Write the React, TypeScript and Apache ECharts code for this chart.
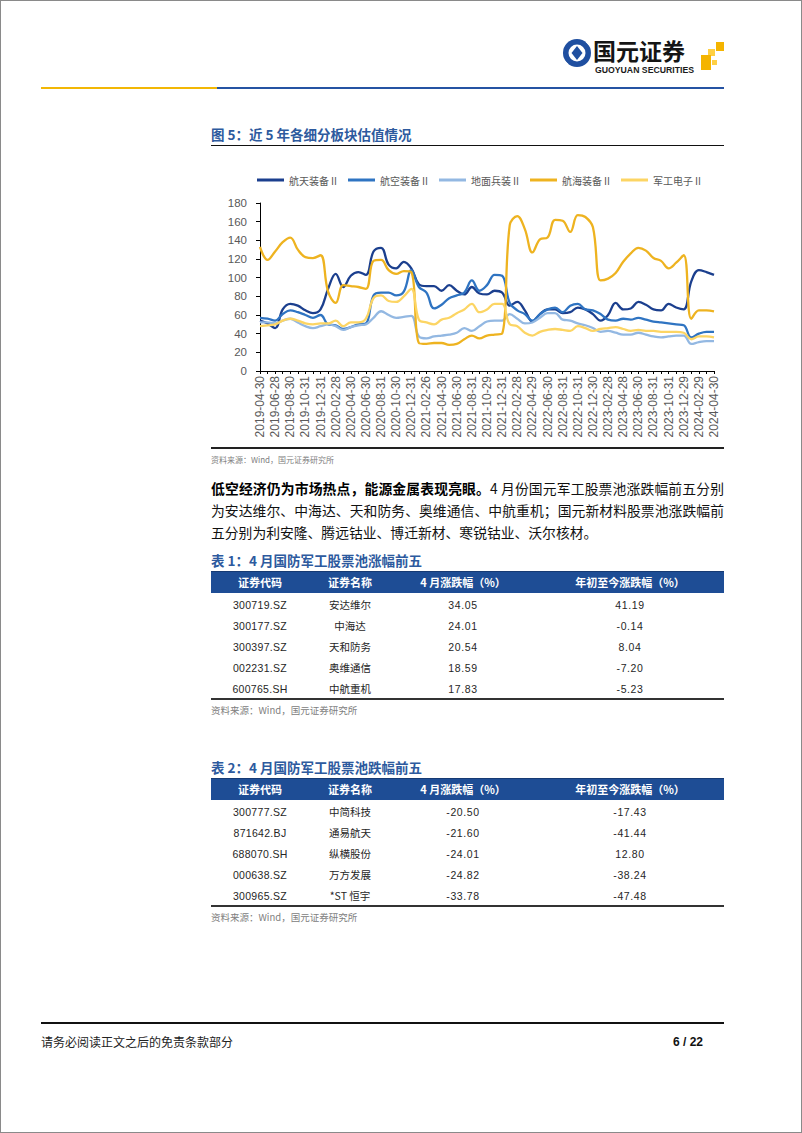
import React, { useEffect, useRef } from "react";
import * as echarts from "echarts";

// ---------- chart data ----------
const DATES = [
  "2019-04-30", "2019-05-31", "2019-06-28", "2019-07-31", "2019-08-30", "2019-09-30", "2019-10-31", "2019-11-29", "2019-12-31",
  "2020-01-23", "2020-02-28", "2020-03-31", "2020-04-30", "2020-05-29", "2020-06-30", "2020-07-31", "2020-08-31", "2020-09-30", "2020-10-30", "2020-11-30", "2020-12-31",
  "2021-01-29", "2021-02-26", "2021-03-31", "2021-04-30", "2021-05-31", "2021-06-30", "2021-07-30", "2021-08-31", "2021-09-30", "2021-10-29", "2021-11-30", "2021-12-31",
  "2022-01-28", "2022-02-28", "2022-03-31", "2022-04-29", "2022-05-31", "2022-06-30", "2022-07-29", "2022-08-31", "2022-09-30", "2022-10-31", "2022-11-30", "2022-12-30",
  "2023-01-31", "2023-02-28", "2023-03-31", "2023-04-28", "2023-05-31", "2023-06-30", "2023-07-31", "2023-08-31", "2023-09-28", "2023-10-31", "2023-11-30", "2023-12-29",
  "2024-01-31", "2024-02-29", "2024-03-29", "2024-04-30",
];

const SERIES_NAMES = ["航天装备Ⅱ", "航空装备Ⅱ", "地面兵装Ⅱ", "航海装备Ⅱ", "军工电子Ⅱ"];

const AEROSPACE = [
  54, 51, 46, 66, 72, 70, 65, 62, 66, 88,
  104, 90, 102, 106, 103, 128, 132, 114, 110, 117,
  110, 93, 91, 91, 86, 92, 86, 82, 90, 83,
  82, 86, 84, 70, 74, 65, 53, 61, 66, 66,
  62, 63, 68, 66, 61, 54, 60, 73, 66, 67,
  74, 71, 66, 65, 72, 68, 66, 96, 108, 106,
  103,
];
const AVIATION = [
  57, 56, 54, 61, 65, 63, 60, 57, 60, 50,
  49, 45, 47, 50, 51, 81, 84, 84, 81, 85,
  108, 90, 84, 67, 71, 78, 81, 84, 97, 86,
  92, 103, 102, 73, 65, 61, 54, 61, 66, 68,
  63, 70, 72, 66, 65, 61, 55, 54, 56, 55,
  57, 55, 53, 52, 51, 50, 49, 36, 40, 42,
  42,
];
const GROUND = [
  52, 52, 51, 54, 56, 52, 48, 46, 48, 50,
  48, 44, 47, 49, 50, 57, 64, 60, 57, 58,
  59, 37, 35, 37, 38, 39, 41, 46, 43, 48,
  53, 54, 54, 61, 56, 51, 52, 57, 62, 62,
  55, 54, 51, 49, 46, 42, 43, 41, 39, 39,
  41, 39, 37, 36, 37, 38, 38, 29, 31, 32,
  32,
];
const MARINE = [
  133, 119, 128, 138, 143, 130, 122, 121, 124, 85,
  73, 92, 91, 90, 88, 118, 119, 108, 104, 107,
  106, 30, 29, 30, 30, 28, 29, 34, 38, 35,
  38, 39, 40, 156, 166, 152, 127, 141, 143, 162,
  161, 149, 167, 165, 154, 97, 99, 105, 117, 126,
  132, 129, 121, 118, 110, 116, 124, 56, 65, 65,
  64,
];
const ELECTRONICS = [
  48, 49, 50, 54, 56, 54, 51, 50, 51, 51,
  54, 48, 52, 52, 56, 78, 81, 75, 74, 80,
  88, 55, 52, 50, 55, 57, 62, 66, 72, 63,
  66, 72, 72, 50, 48, 41, 38, 42, 44, 45,
  44, 43, 48, 46, 43, 45, 46, 47, 45, 43,
  44, 43, 43, 42, 42, 42, 41, 34, 37, 37,
  36,
];
const SERIES_DATA = [AEROSPACE, AVIATION, GROUND, MARINE, ELECTRONICS];
const SERIES_COLORS = ["#1B3F8E", "#2F74C2", "#93B8E2", "#EEB320", "#FCD564"];

const Y_MIN = 0;
const Y_MAX = 180;
const Y_STEP = 20;

// ---------- table data ----------
const TABLE_HEAD = ["证券代码", "证券名称", "4 月涨跌幅（%）", "年初至今涨跌幅（%）"];

const T1_CODES = ["300719.SZ", "300177.SZ", "300397.SZ", "002231.SZ", "600765.SH"];
const T1_NAMES = ["安达维尔", "中海达", "天和防务", "奥维通信", "中航重机"];
const T1_APRIL = ["34.05", "24.01", "20.54", "18.59", "17.83"];
const T1_YTD = ["41.19", "-0.14", "8.04", "-7.20", "-5.23"];

const T2_CODES = ["300777.SZ", "871642.BJ", "688070.SH", "000638.SZ", "300965.SZ"];
const T2_NAMES = ["中简科技", "通易航天", "纵横股份", "万方发展", "*ST 恒宇"];
const T2_APRIL = ["-20.50", "-21.60", "-24.01", "-24.82", "-33.78"];
const T2_YTD = ["-17.43", "-41.44", "12.80", "-38.24", "-47.48"];

const CJK = '"Noto Sans CJK SC", "Noto Sans", sans-serif';
const LAT = '"Liberation Sans", Arial, "Noto Sans CJK SC", sans-serif';
const TITLE_BLUE = "#2D5A9E";

function Txt(props: { x: number; cy: number; size: number; h?: number; children: any; style?: any }) {
  const h = props.h ?? Math.round(props.size * 1.5);
  return (
    <div
      style={{
        position: "absolute",
        left: props.x,
        top: props.cy - h / 2,
        height: h,
        lineHeight: h + "px",
        fontSize: props.size,
        whiteSpace: "nowrap",
        ...props.style,
      }}
    >
      {props.children}
    </div>
  );
}

function CTxt(props: { cx: number; cy: number; size: number; children: any; style?: any }) {
  const h = Math.round(props.size * 1.5);
  return (
    <div
      style={{
        position: "absolute",
        left: props.cx - 110,
        width: 220,
        textAlign: "center",
        top: props.cy - h / 2,
        height: h,
        lineHeight: h + "px",
        fontSize: props.size,
        whiteSpace: "nowrap",
        ...props.style,
      }}
    >
      {props.children}
    </div>
  );
}

function HLine(props: { x1: number; x2: number; y: number; w: number; color: string }) {
  return (
    <div
      style={{
        position: "absolute",
        left: props.x1,
        top: props.y - props.w / 2,
        width: props.x2 - props.x1,
        height: props.w,
        background: props.color,
      }}
    />
  );
}

function Logo() {
  return (
    <svg style={{ position: "absolute", left: 555, top: 30 }} width={175} height={52} viewBox="0 0 175 52">
      <circle cx={22} cy={23} r={14} fill="#1F4FA0" />
      <circle cx={22} cy={23} r={8.5} fill="#fff" />
      <polygon points="22,16 27.5,23 22,30 16.5,23" fill="#1F4FA0" />
      <rect x={31} y={11} width={7} height={4} fill="#fff" transform="rotate(45 34.5 13)" />
      <rect x={6} y={31} width={7} height={4} fill="#fff" transform="rotate(45 9.5 33)" />
      <text x={38} y={30} fontSize={23} fontWeight={700} fill="#151515" fontFamily={CJK}>
        国元证券
      </text>
      <text
        x={40}
        y={43}
        fontSize={8.6}
        fontWeight={700}
        fill="#1a1a1a"
        fontFamily="Liberation Sans"
        textLength={99}
        lengthAdjust="spacingAndGlyphs"
      >
        GUOYUAN SECURITIES
      </text>
      <rect x={161} y={12} width={8} height={9} fill="#F4B400" />
      <rect x={153} y={19} width={7} height={7} fill="#FFD044" />
      <rect x={146} y={25} width={10} height={15} fill="#F4B400" />
      <rect x={157} y={30} width={5} height={5} fill="#FFD044" />
    </svg>
  );
}

function ValuationChart() {
  const ref = useRef<HTMLDivElement>(null);
  useEffect(() => {
    if (!ref.current) return;
    const chart = echarts.init(ref.current, null, { renderer: "svg" });
    const option: any = {
      animation: false,
      legend: {
        top: 10,
        left: 52,
        icon: "rect",
        itemWidth: 27,
        itemHeight: 3,
        itemGap: 9,
        data: SERIES_NAMES,
        textStyle: { fontSize: 10, color: "#595959", fontFamily: CJK },
      },
      grid: { left: 60, right: 26, top: 43, height: 168 },
      xAxis: {
        type: "category",
        data: DATES,
        boundaryGap: false,
        axisLine: { lineStyle: { color: "#000", width: 1 } },
        axisTick: { show: true, interval: 0, length: 3, lineStyle: { color: "#000" } },
        axisLabel: {
          interval: 1,
          rotate: 90,
          fontSize: 12,
          color: "#595959",
          margin: 5,
          fontFamily: "Liberation Sans",
        },
        splitLine: { show: false },
      },
      yAxis: {
        type: "value",
        min: Y_MIN,
        max: Y_MAX,
        interval: Y_STEP,
        axisLine: { show: true, lineStyle: { color: "#000", width: 1 } },
        axisTick: { show: true, length: 4, lineStyle: { color: "#000" } },
        axisLabel: { fontSize: 11.5, color: "#595959", margin: 13, fontFamily: "Liberation Sans" },
        splitLine: { show: false },
      },
      series: SERIES_NAMES.map((name, i) => ({
        name,
        type: "line",
        data: SERIES_DATA[i],
        smooth: 0.4,
        symbol: "none",
        lineStyle: { width: 2.3, color: SERIES_COLORS[i] },
        itemStyle: { color: SERIES_COLORS[i] },
      })),
    };
    chart.setOption(option);
    return () => chart.dispose();
  }, []);
  return <div ref={ref} style={{ position: "absolute", left: 200, top: 160, width: 540, height: 290 }} />;
}

const COL_CX = [260, 350, 463, 630];

function StockTable(props: {
  titleY: number;
  title: string;
  codes: string[];
  names: string[];
  april: string[];
  ytd: string[];
}) {
  const t = props.titleY;
  const bandTop = t + 11;
  const bandH = 22;
  const rowH = 21;
  const firstRow = bandTop + bandH + 11.5;
  const bottomY = bandTop + bandH + rowH * 5 + 1;
  const cell = { color: "#262626", fontSize: 10.5 };
  return (
    <>
      <Txt x={211} cy={t} size={13.5} style={{ color: TITLE_BLUE, fontWeight: 700, fontFamily: CJK }}>
        {props.title}
      </Txt>
      <div
        style={{
          position: "absolute",
          left: 211,
          top: bandTop,
          width: 513,
          height: bandH,
          background: "#1E4D95",
          borderTop: "1px solid #163a73",
          boxSizing: "border-box",
        }}
      />
      {TABLE_HEAD.map((h, i) => (
        <CTxt key={h} cx={COL_CX[i]} cy={bandTop + bandH / 2} size={11} style={{ color: "#fff", fontWeight: 700, fontFamily: CJK }}>
          {h}
        </CTxt>
      ))}
      {props.codes.map((c, r) => (
        <React.Fragment key={c}>
          <CTxt cx={COL_CX[0]} cy={firstRow + r * rowH} size={10.5} style={{ ...cell, fontFamily: LAT, letterSpacing: 0.3 }}>
            {c}
          </CTxt>
          <CTxt cx={COL_CX[1]} cy={firstRow + r * rowH} size={10.5} style={{ ...cell, fontFamily: CJK }}>
            {props.names[r]}
          </CTxt>
          <CTxt cx={COL_CX[2]} cy={firstRow + r * rowH} size={10.5} style={{ ...cell, fontFamily: LAT, letterSpacing: 0.6 }}>
            {props.april[r]}
          </CTxt>
          <CTxt cx={COL_CX[3]} cy={firstRow + r * rowH} size={10.5} style={{ ...cell, fontFamily: LAT, letterSpacing: 0.6 }}>
            {props.ytd[r]}
          </CTxt>
        </React.Fragment>
      ))}
      <HLine x1={211} x2={724} y={bottomY} w={1.5} color="#333" />
      <Txt x={211} cy={bottomY + 11} size={9.5} style={{ color: "#808080", fontFamily: CJK }}>
        资料来源：Wind，国元证券研究所
      </Txt>
    </>
  );
}

export default function App() {
  const para = { width: 513, textAlign: "justify" as const, textAlignLast: "justify" as const, color: "#111", fontFamily: CJK };
  return (
    <div
      style={{
        position: "absolute",
        left: 0,
        top: 0,
        width: 802,
        height: 1133,
        background: "#fff",
        overflow: "hidden",
        fontFamily: CJK,
      }}
    >
      <Logo />
      <HLine x1={41} x2={217} y={88} w={2.5} color="#F2B705" />
      <HLine x1={217} x2={724} y={88} w={2.5} color="#2553A3" />

      <Txt x={211} cy={134} size={13.5} style={{ color: TITLE_BLUE, fontWeight: 700 }}>
        图 5：近 5 年各细分板块估值情况
      </Txt>
      <HLine x1={211} x2={724} y={145.5} w={1.6} color="#111" />

      <ValuationChart />

      <HLine x1={211} x2={724} y={448} w={1.6} color="#222" />
      <Txt x={211} cy={460} size={8} style={{ color: "#808080" }}>
        资料来源：Wind，国元证券研究所
      </Txt>

      <Txt x={211} cy={488} size={13.8} h={22} style={para}>
        <b style={{ fontWeight: 700, color: "#000" }}>低空经济仍为市场热点，能源金属表现亮眼。</b>4 月份国元军工股票池涨跌幅前五分别
      </Txt>
      <Txt x={211} cy={510} size={13.8} h={22} style={para}>
        为安达维尔、中海达、天和防务、奥维通信、中航重机；国元新材料股票池涨跌幅前
      </Txt>
      <Txt x={211} cy={532} size={13.8} h={22} style={{ color: "#111" }}>
        五分别为利安隆、腾远钴业、博迁新材、寒锐钴业、沃尔核材。
      </Txt>

      <StockTable titleY={560} title="表 1：4 月国防军工股票池涨幅前五" codes={T1_CODES} names={T1_NAMES} april={T1_APRIL} ytd={T1_YTD} />
      <StockTable titleY={767} title="表 2：4 月国防军工股票池跌幅前五" codes={T2_CODES} names={T2_NAMES} april={T2_APRIL} ytd={T2_YTD} />

      <HLine x1={41} x2={724} y={1023} w={2.2} color="#111" />
      <Txt x={41} cy={1042} size={12} style={{ color: "#222" }}>
        请务必阅读正文之后的免责条款部分
      </Txt>
      <div
        style={{
          position: "absolute",
          left: 623,
          width: 80,
          textAlign: "right",
          top: 1033,
          height: 18,
          lineHeight: "18px",
          fontSize: 12,
          fontWeight: 700,
          fontFamily: LAT,
          color: "#111",
        }}
      >
        6 / 22
      </div>

      <div
        style={{
          position: "absolute",
          left: 0,
          top: 0,
          width: 802,
          height: 1133,
          border: "1px solid #8a8a8a",
          boxSizing: "border-box",
          pointerEvents: "none",
        }}
      />
    </div>
  );
}
